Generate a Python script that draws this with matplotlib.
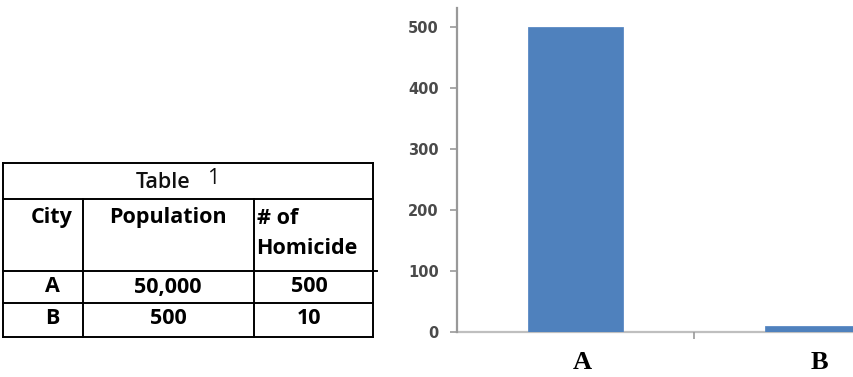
import matplotlib
matplotlib.use("Agg")
import matplotlib.pyplot as plt
from matplotlib.transforms import ScaledTranslation

# Data
cities = ["A", "B"]
population = ["50,000", "500"]
homicides = [500, 10]
y_ticks = [0, 100, 200, 300, 400, 500]

W, H = 854, 377
fig = plt.figure(figsize=(W / 100, H / 100), dpi=100)
fig.patch.set_facecolor("white")

# ---- Table drawn on a pixel-coordinate overlay ----
tab = fig.add_axes([0, 0, 1, 1])
tab.set_xlim(0, W)
tab.set_ylim(H, 0)
tab.axis("off")

lw = 1.4
x_left, x_c1, x_c2, x_right = 3, 83, 254, 373
y_top, y_title, y_head, y_rowA, y_rowB = 163, 199, 271, 303, 337

def hline(y, x0, x1):
    tab.plot([x0, x1], [y, y], color="black", lw=lw, solid_capstyle="projecting")

def vline(x, y0, y1):
    tab.plot([x, x], [y0, y1], color="black", lw=lw, solid_capstyle="projecting")

hline(y_top, x_left, x_right)
hline(y_title, x_left, x_right)
hline(y_head, x_left, x_right + 4)
hline(y_rowA, x_left, x_right)
hline(y_rowB, x_left, x_right)
vline(x_left, y_top, y_rowB)
vline(x_right, y_top, y_rowB)
vline(x_c1, y_title, y_rowB)
vline(x_c2, y_title, y_rowB)

fam = ["Open Sans", "DejaVu Sans"]
fs = 15.5
tab.text(163, 182, "Table", ha="center", va="center", fontsize=fs,
         family=fam, fontweight="semibold", color="#111111")
tab.text(213, 179, "1", ha="center", va="center", fontsize=fs,
         family=fam, color="#111111")

tab.text(52, 218, "City", ha="center", va="center", fontsize=fs,
         family=fam, fontweight="bold")
tab.text(168, 218, "Population", ha="center", va="center", fontsize=fs,
         family=fam, fontweight="bold")
tab.text(257, 218, "# of", ha="left", va="center", fontsize=fs,
         family=fam, fontweight="bold")
tab.text(256, 249, "Homicide", ha="left", va="center", fontsize=fs,
         family=fam, fontweight="bold")

row_y = [287, 319]
for c, p, h, y in zip(cities, population, homicides, row_y):
    tab.text(52, y, c, ha="center", va="center", fontsize=fs,
             family=fam, fontweight="bold")
    tab.text(168, y, p, ha="center", va="center", fontsize=fs,
             family=fam, fontweight="bold")
    tab.text(309, y, f"{h:,}", ha="center", va="center", fontsize=fs,
             family=fam, fontweight="bold")

# ---- Bar chart ----
ax_l, ax_r, ax_b, ax_t = 457, 854, 332, 8
ax = fig.add_axes([ax_l / W, (H - ax_b) / H, (ax_r - ax_l) / W, (ax_b - ax_t) / H])
x = list(range(len(cities)))
ax.bar(x, homicides, width=0.40, color="#4f81bd", edgecolor="#5b8ac4", linewidth=0.6,
       zorder=2)
ax.set_xlim(-0.5, 0.5 + (ax_r - 694) / 237)
ax.set_ylim(0, 531)

for s in ("top", "right"):
    ax.spines[s].set_visible(False)
ax.spines["left"].set_color("#999999")
ax.spines["left"].set_linewidth(1.6)
ax.spines["bottom"].set_color("#bfbfbf")
ax.spines["bottom"].set_linewidth(1.6)
ax.spines["bottom"].set_zorder(1)

ax.set_yticks(y_ticks)
ax.tick_params(axis="y", direction="out", length=5, width=1.2, color="#999999",
               labelsize=10.5, labelcolor="#4a4a4a", pad=8)
for lbl in ax.get_yticklabels():
    lbl.set_fontweight("bold")

ax.set_xticks(x)
ax.set_xticklabels(cities, family=["Liberation Serif"], fontweight="bold", fontsize=19)
ax.tick_params(axis="x", length=0, pad=14, labelcolor="black")
ax.set_xticks([0.5], minor=True)
ax.tick_params(axis="x", which="minor", direction="out", length=5, width=1.2,
               color="#999999")
shift = ScaledTranslation(7 / 100, 0, fig.dpi_scale_trans)
for lbl in ax.get_xticklabels():
    lbl.set_transform(lbl.get_transform() + shift)

fig.savefig("out.png", dpi=100, facecolor="white")
